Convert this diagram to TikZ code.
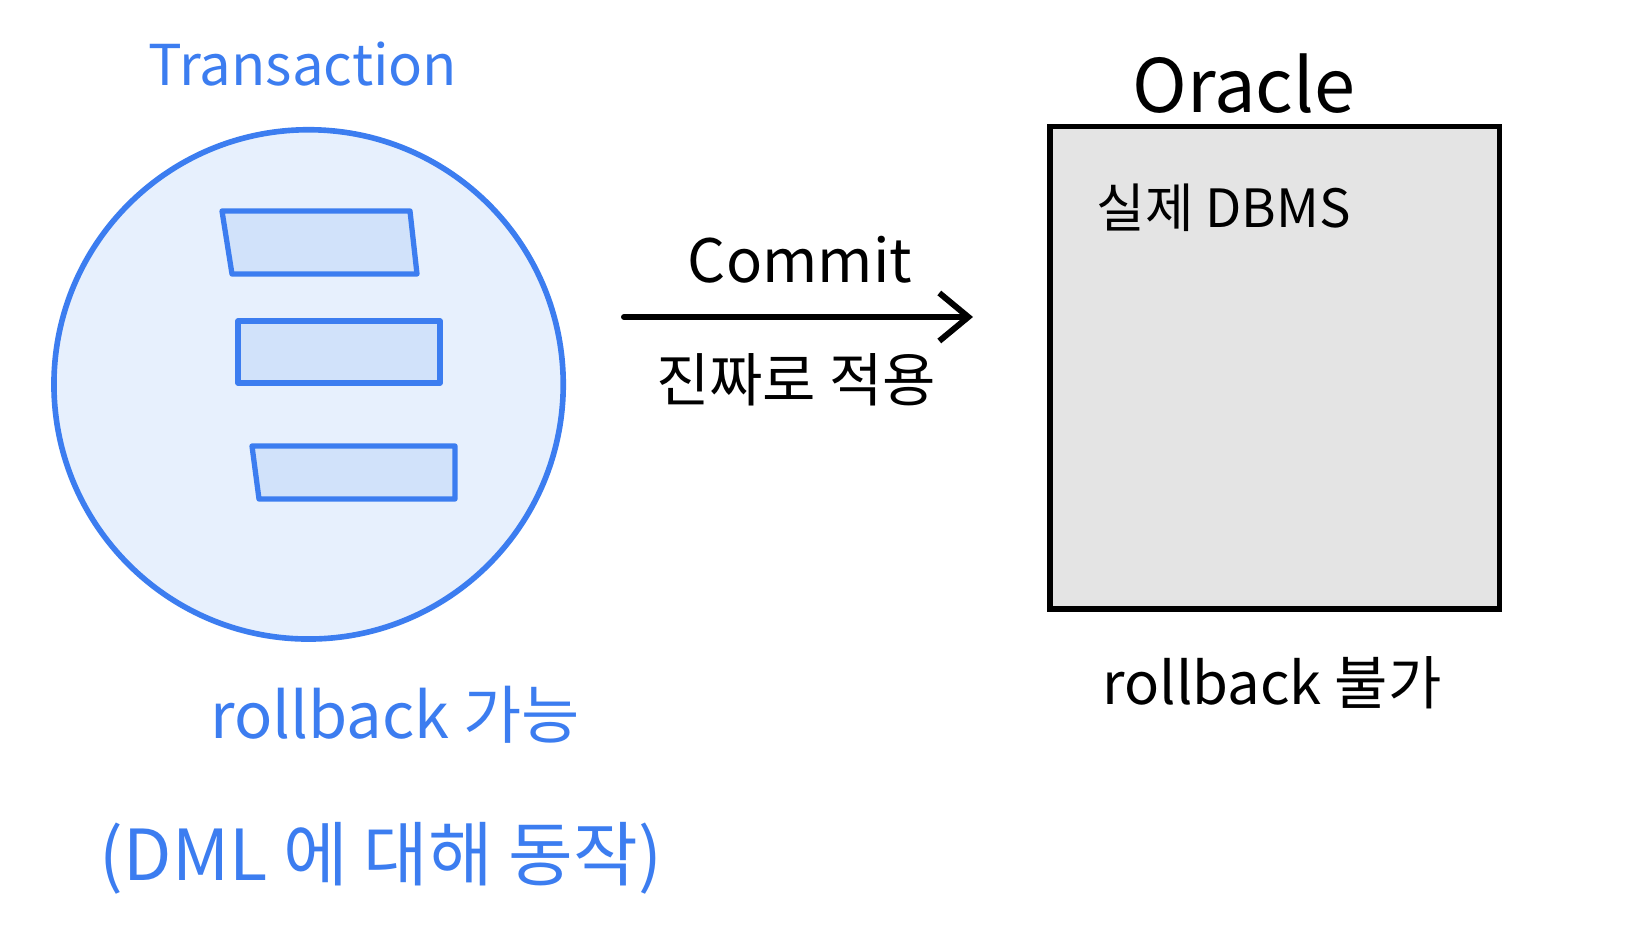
\documentclass[tikz,border=0pt]{standalone}
\usepackage{fontspec}
\setmainfont{Noto Sans CJK KR}
\usetikzlibrary{arrows.meta}
\definecolor{xblue}{RGB}{60,125,240}
\definecolor{cfill}{RGB}{231,240,253}
\definecolor{rfill}{RGB}{209,226,250}
\definecolor{gfill}{RGB}{228,228,228}
\tikzset{
  bluetxt/.style={text=xblue, inner sep=0pt},
  blacktxt/.style={text=black, inner sep=0pt},
  item/.style={draw=xblue, fill=rfill, line width=1.5pt, line join=round},
}
\begin{document}
\begin{tikzpicture}[x=0.01cm, y=-0.01cm]
\useasboundingbox (0,0) rectangle (1629,943);
\fill[white] (0,0) rectangle (1629,943);
% transaction circle
\node[circle, draw=xblue, fill=cfill, line width=1.6pt, minimum size=5.09cm, inner sep=0pt] (tx) at (308.6,384.4) {};
\draw[item] (222,211) -- (410,211) -- (417,274) -- (232,274) -- cycle;
\draw[item] (238,321) rectangle (440,383);
\draw[item] (252,446) -- (455,446) -- (455,499) -- (259,499) -- cycle;
\node[bluetxt, font=\fontsize{16}{19}\selectfont] (ttl) at (303,64) {Transaction};
\node[bluetxt, font=\fontsize{18}{22}\selectfont] (rb1) at (395,715) {rollback 가능};
\node[bluetxt, font=\fontsize{20}{24}\selectfont] (dml) at (381,858) {(DML 에 대해 동작)};
% arrow
\coordinate (as) at (624,317);
\coordinate (ae) at (973,317);
\draw[line width=1.7pt, line cap=round, -{Straight Barb[length=0.29cm, width=0.48cm, line width=1.7pt]}] (as) -- (ae);
\node[blacktxt, font=\fontsize{17}{21}\selectfont] (cm) at (800,260) {Commit};
\node[blacktxt, font=\fontsize{16.5}{20}\selectfont] (ap) at (796,380) {진짜로 적용};
% oracle
\node[draw=black, fill=gfill, line width=1.6pt, minimum width=4.49cm, minimum height=4.82cm, inner sep=0pt] (db) at (1274.7,367.8) {};
\node[blacktxt, font=\fontsize{21}{25}\selectfont] (or) at (1244,84) {Oracle};
\node[blacktxt, font=\fontsize{15}{18}\selectfont, anchor=west] (real) at (1096,208) {실제 DBMS};
\node[blacktxt, font=\fontsize{16.5}{20}\selectfont] (rb2) at (1272,683) {rollback 불가};
\end{tikzpicture}
\end{document}
